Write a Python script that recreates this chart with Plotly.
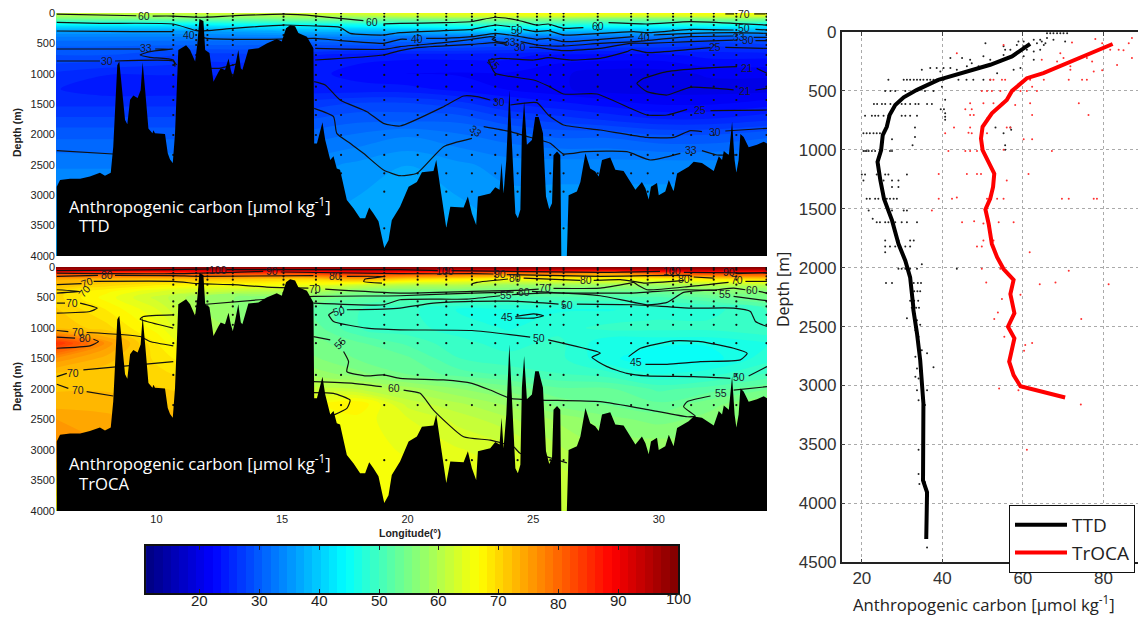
# Anthropogenic carbon sections (TTD, TrOCA) and mean depth profiles
import numpy as np
import plotly.graph_objects as go

# Sea floor along the section, shared by both panels
bottom_lon = [6.03, 6.16, 6.56, 6.96, 7.35, 7.75, 7.95, 8.18, 8.28, 8.44, 8.52, 8.62, 8.75, 8.84, 8.95, 9.08, 9.19, 9.25,
              9.37, 9.45, 9.55, 9.68, 9.84, 9.88, 9.94, 10.34, 10.45, 10.54, 10.65, 10.74, 10.87, 11.01, 11.18, 11.34,
              11.54, 11.63, 11.71, 11.87, 11.94, 12.11, 12.27, 12.47, 12.56, 12.73, 12.87, 12.96, 13.04, 13.13, 13.26,
              13.36, 13.42, 13.66, 14.06, 14.39, 14.79, 14.99, 15.16, 15.32, 15.52, 15.65, 15.99, 16.25, 16.28, 16.39,
              16.61, 16.72, 16.92, 17.05, 17.18, 17.31, 17.58, 17.85, 18.11, 18.31, 18.47, 18.64, 18.84, 19.07, 19.24,
              19.37, 19.64, 19.70, 20.04, 20.37, 20.57, 21.03, 21.14, 21.30, 21.54, 21.70, 22.23, 22.40, 22.56, 22.73,
              22.80, 23.29, 23.49, 23.66, 23.74, 23.82, 23.93, 24.05, 24.19, 24.29, 24.39, 24.49, 24.55, 24.64, 24.75,
              24.95, 25.08, 25.22, 25.39, 25.51, 25.64, 25.75, 25.81, 25.95, 26.08, 26.12, 26.34, 26.41, 26.74, 26.88,
              27.08, 27.27, 27.47, 27.61, 27.74, 28.07, 28.27, 28.60, 29.07, 29.33, 29.47, 29.60, 29.69, 29.93, 30.00,
              30.26, 30.40, 30.59, 30.73, 31.19, 31.39, 31.72, 32.19, 32.39, 32.52, 32.59, 32.79, 32.92, 33.02, 33.09,
              33.18, 33.25, 33.38, 33.58, 33.91, 34.18, 34.31]
bottom_depth = [2860, 2750, 2730, 2730, 2690, 2630, 2680, 2630, 2200, 860, 800, 1210, 1760, 1830, 1430, 1360, 1380, 1400,
                1270, 810, 1270, 1900, 1980, 1930, 1980, 1990, 2310, 2410, 2470, 1980, 610, 580, 530, 610,
                800, 500, 100, 130, 610, 660, 1130, 970, 910, 940, 750, 940, 1050, 880, 610,
                910, 940, 600, 580, 500, 430, 470, 250, 200, 220, 330, 390, 580, 2150, 2150,
                1800, 2090, 2420, 2360, 2560, 2580, 3080, 3220, 3380, 3380, 3200, 3300, 3430, 3870, 3740,
                3410, 3220, 3190, 2860, 2780, 2620, 2600, 2420, 2860, 3540, 3190, 3200, 3020, 3300, 3490,
                3020, 2970, 2870, 2910, 2470, 2970, 2420, 1270, 2530, 3300, 3380, 3240, 1980, 1460, 2170,
                2090, 1710, 1710, 1980, 3020, 3230, 3130, 2340, 2280, 2340, 4000, 4000, 3000, 2940, 2780,
                2310, 2560, 2610, 2690, 2420, 2380, 2580, 2600, 2910, 2780, 2890, 3070, 2860, 2800, 3000,
                2940, 2750, 2940, 2640, 2530, 2450, 2470, 2600, 2360, 2420, 2270, 2340, 1790, 2420, 2630,
                2420, 1990, 2040, 2210, 2170, 2120, 2150]

# Gridded section values
grid_lon = [6, 8, 10, 12, 14, 16, 18, 20, 22, 24, 26, 28, 30, 32, 34.31]
ttd_grid_depth = [0, 50, 100, 200, 300, 400, 500, 700, 1000, 1250, 1500, 1750, 2000, 2500, 3000, 3500, 4000]
ttd_values = [
    [62, 62, 62, 63, 63, 63, 64, 65, 65, 66, 66, 66, 66, 66, 66],
    [59, 59, 59, 59, 59, 60, 60, 62, 63, 64, 64, 63, 63, 64, 64],
    [54, 54, 54, 54, 54, 55, 55, 55, 56, 56, 56, 55, 55, 56, 55],
    [43, 43, 43, 43, 44, 44, 45, 46, 47, 48, 47, 46, 46, 46, 44],
    [36, 36, 36, 36, 37, 38, 38, 38, 39, 40, 39, 38, 38, 38, 37],
    [33, 33, 33, 33, 33, 33, 33, 32, 32, 32, 32, 32, 32, 30, 30],
    [31, 31, 31, 31, 31, 30, 30, 30, 30, 29, 29, 28, 28, 27, 28],
    [29, 29, 28, 27, 27, 25, 24, 24, 24, 24, 23, 23, 23, 24, 24],
    [26, 25, 25, 25, 25, 24, 23, 22, 22, 22, 21, 20, 20, 21, 21],
    [25, 24, 24, 24, 24, 24, 24, 24, 23, 22, 21, 20, 20, 20, 20],
    [26, 26, 26, 26, 26, 27, 28, 28, 27, 25, 24, 23, 22, 22, 23],
    [28, 28, 28, 28, 28, 29, 30, 30, 30, 28, 27, 26, 25, 25, 26],
    [30, 30, 30, 30, 30, 31, 32, 33, 32, 31, 30, 30, 29, 29, 30],
    [33, 33, 33, 33, 33, 34, 35, 36, 35, 34, 34, 34, 34, 34, 34],
    [35, 35, 35, 35, 35, 35, 36, 37, 36, 35, 35, 35, 35, 35, 35],
    [36, 36, 36, 36, 36, 36, 37, 37, 37, 36, 36, 36, 36, 36, 36],
    [37, 37, 37, 37, 37, 37, 37, 37, 37, 37, 37, 37, 37, 37, 37],
]
troca_grid_depth = [0, 30, 100, 200, 300, 400, 500, 700, 1000, 1250, 1500, 1750, 2000, 2250, 2500, 3000, 3500, 4000]
troca_values = [
    [100, 100, 100, 100, 100, 100, 100, 100, 100, 100, 100, 100, 100, 100, 100],
    [97, 96, 96, 97, 96, 96, 97, 97, 96, 97, 96, 96, 97, 97, 97],
    [84, 83, 83, 84, 84, 84, 86, 84, 82, 79, 79, 76, 82, 84, 84],
    [74, 73, 72, 72, 71, 70, 74, 70, 68, 66, 66, 66, 66, 68, 70],
    [72, 70, 68, 66, 66, 65, 62, 60, 60, 58, 58, 58, 58, 60, 60],
    [70, 67, 64, 62, 60, 60, 56, 55, 55, 55, 54, 54, 54, 56, 56],
    [70, 66, 62, 58, 56, 56, 53, 52, 52, 51, 51, 51, 51, 53, 55],
    [71, 68, 64, 58, 56, 53, 50, 49, 47, 47, 47, 47, 48, 48, 50],
    [72, 70, 66, 60, 56, 54, 50, 49, 48, 47, 48, 49, 49, 49, 50],
    [85, 76, 68, 62, 58, 55, 53, 51, 49, 48, 49, 46, 46, 46, 47],
    [76, 73, 69, 66, 60, 56, 54, 53, 50, 49, 49, 46, 45, 45, 48],
    [72, 71, 70, 68, 63, 58, 56, 54, 52, 51, 50, 49, 47, 48, 50],
    [72, 72, 71, 70, 66, 62, 61, 59, 57, 55, 53, 53, 51, 52, 54],
    [73, 73, 72, 71, 67, 66, 68, 62, 60, 58, 55, 54, 53, 55, 57],
    [75, 74, 73, 72, 68, 66, 66, 64, 62, 60, 58, 56, 55, 56, 58],
    [76, 75, 74, 72, 68, 66, 66, 65, 64, 63, 60, 58, 58, 58, 58],
    [70, 70, 70, 68, 67, 66, 66, 66, 65, 64, 62, 60, 60, 60, 60],
    [66, 66, 66, 66, 66, 66, 66, 66, 65, 64, 62, 60, 60, 60, 60],
]

# Contour lines, segments split by None
ttd_line_lon = [
    6.03, 9.2, None, 9.85, 10.67, 11.74, 13.07, 15.06, 16.39, 17.31, 18.24, None,
    19.04, 19.7, 21.43, 22.56, 23.49, 24.35, 25.15, 25.6, 26.21, 27.0, None, 28, 29.53, 31.26, 32.98, 34.31, None,
    32.65, 33.0, None, 33.8, 34.25, None,
    6.03, 7.75, 10.67, 11.6, 12.0, 13.07, 15.06, 16.32, 17.31, 17.71, 19.04, 19.7, 21.43, 22.56, 23.49, 24.09, None,
    24.6, 25.15, 25.6, 26.21, 27.67, 29.0, 29.53, 31.26, 32.98, None, 33.85, 34.31, None,
    6.03, 9.08, 10.67, None, 11.7, 12, 14.39, 16.32, 17.31, 19.04, 19.7, 19.97, None,
    20.74, 21.43, 22.56, 23.49, 24.35, 25.15, 25.6, 26.21, 27.67, 29.0, None, 29.8, 31.26, 32.98, 34.31, None,
    6.03, 9.35, None, 9.95, 10.67, 9.74, 9.35, 9.74, 10.67, 10.74, None, 16.32, 19.04, 19.7, 21.43, 22.56, 23.29,
    23.49, 23.36, 23.56, 23.95, None, 24.5, 25.15, 26.21, 27.67, 29, 31.26, 32.98, None, 33.78, 34.31, None,
    6.03, 7.75, None, 8.35, 10.67, 10.8, None, 12.14, 12.5, 13.3, None, 16.32, 19.04, 19.7, 20.37, 22.56, 23.49, 23.95, None,
    24.85, 25.15, 26.21, 27.67, 28.87, 29.53, 31.26, 32.98, None, 33.85, 34.31, None,
    23.22, 23.69, 25.02, 25.6, 26.48, 27.67, 28.73, 28.93, 29.53, 31.26, 32.06, None, 32.65, 34.31, None,
    23.22, 23.49, 25.02, 25.6, 26.21, 27.54, 28.87, 29.53, 30.33, 31.13, None, 32.06, 34.31, None,
    34.31, 33.9, None, 33.12, 31.66, 30.33, 29.4, 29.13, 29.53, 30.33, 31.26, 32.98, None, 33.85, 34.31, None,
    16.28, 16.72, 17.31, 18.38, 19.04, 19.7, 21.43, 22.23, 22.76, 23.29, None, 24.09, 25.15, 25.6, 26.21, 27.67, 29.53,
    30.59, 31.26, 31.72, None, 32.65, 34.31, None,
    6.03, 8.28, None, 16.28, 17.05, 17.18, 17.71, 18.24, 19.04, 19.7, 20.37, 21.43, 22.56, None, 23.03, 24.09, 25.02,
    25.68, 26.21, 27.08, 28.73, 29.66, 30.86, None, 31.72, 32.32, 33.12,
]
ttd_line_depth = [
    20, 45, None, 50, 50, 70, 45, 20, 50, 90, 125, None,
    180, 170, 160, 140, 70, 115, 198, 181, 252, 241, None, 160, 181, 143, 170, 198, None,
    15, 15, None, 15, 15, None,
    154, 170, 181, 291, 291, 252, 198, 214, 236, 335, 362, 324, 291, 269, 198, 225, None,
    269, 307, 291, 362, 335, 307, 324, 269, 280, None, 269, 280, None,
    296, 307, 307, None, 390, 417, 433, 417, 455, 499, 433, 433, None,
    417, 417, 390, 335, 379, 433, 417, 472, 433, 390, None, 362, 335, 324, 335, None,
    593, 593, None, 593, 593, 636, 691, 730, 774, 883, None, 582, 598, 554, 488, 433, 390,
    401, 433, 472, 488, None, 472, 527, 543, 499, 472, 390, 379, None, 401, 401, None,
    790, 790, None, 790, 790, 856, None, 911, 911, 829, None, 774, 691, 620, 571, 516, 488, 516, None,
    565, 565, 620, 582, 499, 499, 472, 445, None, 455, 455, None,
    774, 746, 774, 735, 774, 746, 636, 598, 653, 598, 571, None, 565, 582, None,
    774, 993, 1103, 1202, 1333, 1333, 1569, 1679, 1679, 1586, None, 1608, 1597, None,
    993, 911, None, 883, 911, 966, 1075, 1158, 1295, 1350, 1224, 1267, None, 1267, 1240, None,
    1130, 1185, 1432, 1624, 1816, 1860, 1542, 1366, 1377, 1432, None, 1514, 1476, 1679, 1844, 1926, 2047,
    2047, 1937, 1953, None, 1942, 1898, None,
    2266, 2321, None, 1569, 1706, 1981, 2145, 2310, 2584, 2678, 2639, 2200, 2063, None, 1871, 1953, 2063,
    2145, 2321, 2283, 2283, 2420, 2310, None, 2266, 2337, 2337,
]
troca_line_lon = [
    6.03, 10.67, 12.1, None, 12.8, 19.7, 21.2, None, 21.75, 27.67, 30.05, None, 31.0, 34.31, None,
    6.03, 10.67, 14.25, None, 14.95, 19.7, 22.56, 23.42, None, 23.95, 27.67, 29.53, 31.26, None, 33.12, 34.31, None,
    6.03, 7.67, None, 8.35, 10.67, 11.71, 16.25, None, 17.58, 19.11, 18.31, 18.25, 18.98, None,
    22.56, 22.76, 24.0, None, 24.62, 26.88, None, 27.41, 28.47, 29.0, 29.4, 31.0, None, 31.39, 32.19, None,
    6.03, 7.02, None, 7.5, 10.67, 11.71, 13.04, 14.39, 16.05, None, 16.72, 19.7, 22.56, 24.35, 25.22, None,
    25.81, 27.67, 28.87, 29.0, 29.2, 29.53, 31.26, 32.78, None, 33.45, 34.31, None,
    6.03, 6.96, 6.03, None,
    6.03, 6.36, None, 6.96, 7.64, 7.35, 6.03, None,
    6.03, 6.49, None, 7.22, 9.35, 9.74, 10.67, None,
    6.03, 6.43, None, 7.09, 10.67, None,
    6.03, 6.49, None, 7.22, 8.28, None,
    6.03, 6.76, None, 7.49, 7.69, 7.35, 6.03, None,
    10.67, 9.48, 9.35, 9.61, 10.67, None,
    11.74, 14.1, 16.25, 19.7, 22.56, 24.22, None, 24.95, 27.67, 29.53, 30.33, 30.99, 32.32, 32.98, 33.45, None, 33.98, 34.31, None,
    16.25, 19.04, 19.7, 22.36, 23.69, None, 24.15, 25.28, 28.87, 30.99, 32.32, None, 32.98, 34.31, None,
    16.85, 17.05, None, 17.58, 19.04, 19.7, 21.03, 22.56, 24.35, 26.01, None, 26.74, 29.0, 31.26, 32.98, 33.65, 33.85, 34.31, None,
    16.85, 17.05, 18.38, 19.7, 22.56, 24.88, None, 25.6, 27.54, 27.67, 27.34, 27.94, 28.73, 29.53, 31.39, 32.85, None, 33.58, 34.31, None,
    16.25, 16.92, None, 17.45, 17.65, 17.58, 18.38, 19.04, 19.7, 21.43, 22.56, 23.29, 24.09, 25.28, 27.67, 29.66, 31.13,
    31.46, 30.99, 31.13, 32.06, None, 32.98, 34.31, None,
    16.25, 17.84, 18.97, None, 19.84, 20.5, 21.03, 22.23, 23.29, 24.22, 24.49, 25.55, 26.34, None,
    16.25, 17.05, 17.71, 17.58, 17.05, None,
    24.29, 25.02, 25.41, 25.02, 24.29, None,
    28.8, 29.27, 30.59, 31.66, 32.98, 33.52, 33.25, 31.66, 30.33, 29.47,
]
troca_line_depth = [
    60, 44, 33, None, 44, 44, 60, None, 60, 88, 71, None, 88, 99, None,
    99, 110, 71, None, 82, 110, 110, 115, None, 126, 153, 142, 137, None, 110, 88, None,
    153, 137, None, 137, 142, 153, 142, None, 153, 153, 197, 236, 263, None,
    274, 252, 197, None, 181, 219, None, 219, 208, 236, 263, 219, None, 164, 181, None,
    290, 274, None, 236, 236, 274, 290, 329, 345, None, 362, 427, 400, 384, 362, None,
    351, 345, 263, 252, 307, 373, 318, 252, None, 236, 236, None,
    373, 400, 427, None,
    592, 592, None, 592, 674, 729, 756, None,
    1041, 1058, None, 1074, 1140, 1222, 1293, None,
    1797, 1743, None, 1688, 1551, None,
    1923, 1989, None, 2044, 2115, None,
    1151, 1167, None, 1184, 1222, 1293, 1332, None,
    784, 811, 855, 893, 1003, None,
    619, 537, 482, 471, 427, 411, None, 400, 471, 619, 581, 416, 373, 345, 373, None, 400, 427, None,
    592, 619, 537, 526, 471, None, 455, 427, 427, 373, 384, None, 482, 553, None,
    784, 729, None, 701, 690, 674, 592, 564, 564, 608, None, 608, 619, 674, 674, 729, 893, 975, None,
    784, 893, 1003, 1030, 1041, 1151, None, 1195, 1386, 1414, 1480, 1633, 1743, 1786, 1797, 1825, None, 1786, 1633, None,
    1140, 1195, None, 1386, 1551, 1715, 1786, 1770, 1825, 1852, 1907, 2017, 2154, 2181, 2208, 2345, 2455,
    2444, 2291, 2208, 2115, None, 2017, 1962, None,
    1880, 1907, 1962, None, 2017, 2071, 2345, 2784, 2839, 2948, 3058, 3113, 3211, None,
    2060, 2071, 2181, 2318, 2428, None,
    811, 767, 800, 838, 838, None,
    1469, 1332, 1211, 1222, 1332, 1414, 1523, 1551, 1595, 1595,
]

# Contour labels
ttd_label_text = ["60", "60", "60", "70", "50", "50", "40", "40", "40", "33", "33", "33", "30", "30", "30",
                  "25", "25", "25", "21", "21", "30", "30", "33", "33"]
ttd_label_lon = [9.5, 18.6, 27.57, 33.4, 24.35, 33.4, 11.3, 20.37, 29.4, 9.57, 24.09, 33.2, 8.05, 24.48, 33.55,
                 32.25, 23.42, 31.63, 33.5, 33.45, 23.65, 32.25, 22.73, 31.3]
ttd_label_depth = [50, 145, 214, 15, 280, 252, 362, 433, 401, 582, 472, 390, 790, 554, 445,
                   565, 829, 1597, 900, 1278, 1460, 1964, 1937, 2255]
ttd_label_angle = [0, 0, 0, 0, 0, 0, 0, 0, 0, 0, 0, 0, 0, 0, 0, 0, 45, 0, 0, 0, 0, 0, 40, 0]

troca_label_text = ["100", "100", "100", "90", "90", "90", "80", "80", "80", "80", "80", "70", "70", "70", "70", "70",
                    "70", "70", "70", "70", "80", "60", "60", "60", "55", "55", "55", "55", "50", "50", "50", "50", "45", "45"]
troca_label_lon = [12.47, 21.47, 30.53, 14.62, 23.69, 32.78, 8.02, 17.11, 24.29, 27.1, 31.0, 7.25, 16.32, 25.48, 33.1, 7.12,
                   6.62, 6.89, 6.69, 6.89, 7.16, 24.62, 33.7, 19.47, 23.9, 32.65, 17.31, 32.48, 17.25, 26.35, 25.25, 33.2, 23.95, 29.11]
troca_label_depth = [44, 60, 71, 71, 115, 88, 137, 153, 181, 208, 197, 252, 356, 345, 219, 389,
                     592, 1058, 1732, 2017, 1167, 411, 384, 1989, 466, 438, 1249, 2071, 729, 619, 1167, 1808, 822, 1551]
troca_label_angle = [0, 0, 0, 0, 0, 0, 0, 0, 0, 0, 0, -20, 0, 0, 0, -50,
                     0, 0, 0, 0, 0, 0, 0, 0, 0, 0, -45, 0, -15, 0, 0, 0, 0, 0]

# Sampling stations
station_lon = [10.67, 11.58, 12.03, 13.04, 15.06, 16.35, 17.35, 19.07, 20.4, 21.54, 22.56, 23.49, 24.38, 25.15, 25.68,
               26.21, 27.57, 28.9, 29.56, 30.57, 31.29, 32.19, 33.09, 34.29]
ttd_sample_depth = [5, 60, 115, 198, 280, 362, 445, 527, 691, 856, 1020, 1213, 1432, 1679, 2008, 2337, 2639, 2941, 3545]
troca_sample_depth = [16, 44, 99, 153, 208, 290, 427, 564, 647, 784, 948, 1249, 1770, 2263, 3167]

# Depth profiles: means
profile_ttd_x = [61.8, 58.9, 57.3, 51.9, 47.8, 42, 39, 33.7, 30.4, 28.3, 26.9, 26.2, 25.2, 24.8, 23.9, 24.6, 25.5, 27.5,
                 29.1, 30.8, 32, 32.8, 32.8, 33.7, 34.5, 35.3, 35.2, 35.2, 36.2, 36.2, 36]
profile_ttd_depth = [100, 165, 207, 278, 320, 378, 406, 491, 554, 619, 704, 804, 875, 1002, 1102, 1258, 1414, 1599,
                     1798, 1940, 2082, 2337, 2358, 2557, 2784, 3153, 3494, 3806, 3906, 4119, 4303]
profile_troca_x = [82.3, 75.9, 70.1, 65.1, 61, 57.3, 56, 52.3, 50, 49.6, 50, 51.5, 52.9, 52.6, 51.9, 50.7, 51.5, 52.3,
                   53.6, 55.2, 57.7, 56.9, 57.7, 57.9, 56.3, 57.9, 56.6, 57.7, 59.4, 70.5]
profile_troca_depth = [102, 193, 278, 349, 392, 500, 577, 690, 804, 903, 1002, 1102, 1201, 1315, 1414, 1505, 1627, 1798,
                       1911, 2011, 2104, 2224, 2366, 2386, 2500, 2599, 2798, 2912, 3006, 3102]

# Depth profiles: single samples
samples_ttd_x = [66, 66.8, 67.6, 68.5, 69.3, 70.1, 71, 58.9, 60.2, 62.7, 64.3, 66, 67.6, 70.5, 50.7, 55.2, 58.5, 60.2, 63.5, 64.7,
                 65.2, 65.6, 55.6, 56.9, 58.9, 61, 62.7, 64.3, 55.2, 57.7, 60.2, 62.7, 42, 44.9, 46.9, 47.3, 51.9, 50.2,
                 37, 38.6, 40.3, 42, 43.6, 46.1, 49, 53.6, 57.7, 59.4, 34.9, 39.5,
                 26.6, 30.4, 31.2, 32, 32.9, 33.7, 34.5, 35.3, 36.2, 37, 37.8, 38.6, 40.3, 44, 46, 47.7, 50.2, 51.9,
                 25.8, 27.1, 28.3, 30.8, 32.9, 33.7, 35.7, 37.8, 39.9,
                 23, 23.8, 25, 25.8, 27.1, 28.7, 29.9, 30.8, 32, 33.3, 34.1, 36.2, 37.4, 40.7, 39.6, 40.4,
                 20.8, 22.5, 23.3, 24.1, 25.4, 26.6, 29.9, 30.8, 32, 33.7, 40.7, 40.7, 40.7,
                 20.4, 21.2, 22, 22.9, 23.7, 24.5, 27.5, 33.2, 33.2, 53.2, 55.2, 56.9, 57.1,
                 20.4, 20.8, 21.2, 21.7, 22.5, 23.3, 24.6, 27, 27.5, 32.6, 55.6, 55.6,
                 20, 20.8, 23.7, 24.5, 25.8, 26.6, 31.2, 20.4, 25.4, 27.5, 29.1, 27.5, 29.1,
                 21.2, 22, 23.3, 24.1, 25.4, 26.2, 27, 27.9, 28.7,
                 21.7, 27.5, 30.4, 31.2, 22.7, 23.7, 24.5, 25.8, 26.6, 28.3, 29.9, 31.2, 33.7,
                 25.8, 32, 32.9, 29.1, 25.8, 27, 28.3, 29.5, 30.8, 32, 25.8,
                 29.1, 29.9, 30.8, 31.6, 32, 33.7, 34.9, 43.6,
                 26, 27.5, 32.9, 33.9, 34.7, 32.2, 33, 33.8, 34.5, 32, 33, 34, 32.4, 33.5, 34.2,
                 31.2, 33.7, 34.5, 33.3, 34.1, 36.2, 33.3, 34.9, 37.8, 33.7, 33.3, 34.1, 36.2, 33.7, 34.1, 35.7,
                 34.1, 34.1, 34.3, 36.2, 35.7]
samples_ttd_depth = [10, 10, 10, 10, 10, 10, 10, 80, 80, 65, 65, 50, 65, 80, 95, 120, 110, 120, 95, 80,
                     110, 95, 150, 150, 165, 150, 165, 150, 195, 195, 205, 235, 220, 220, 235, 265, 235, 205,
                     305, 305, 305, 305, 320, 290, 290, 350, 320, 305, 320, 335,
                     405, 405, 405, 405, 405, 405, 405, 405, 405, 405, 405, 405, 405, 405, 405, 405, 405, 405,
                     500, 500, 500, 500, 500, 500, 500, 500, 465,
                     610, 610, 610, 610, 610, 610, 610, 610, 610, 610, 610, 610, 610, 575, 655, 655,
                     710, 710, 710, 710, 710, 710, 710, 710, 710, 710, 690, 720, 745,
                     860, 860, 860, 860, 860, 860, 910, 810, 890, 810, 860, 810, 830,
                     1010, 1010, 1010, 1010, 1010, 1010, 1010, 1010, 1010, 960, 960, 1000,
                     1210, 1210, 1210, 1210, 1210, 1210, 1210, 1260, 1260, 1260, 1260, 1315, 1315,
                     1415, 1415, 1415, 1415, 1415, 1415, 1415, 1415, 1415,
                     1515, 1515, 1515, 1515, 1585, 1615, 1615, 1615, 1615, 1615, 1615, 1615, 1615,
                     1770, 1770, 1770, 1770, 1820, 1820, 1820, 1820, 1820, 1820, 1870,
                     2010, 2010, 2010, 2010, 2010, 2010, 1970, 2010,
                     2130, 2130, 2130, 2130, 2130, 2150, 2200, 2200, 2200, 2280, 2280, 2280, 2340, 2340, 2340,
                     2430, 2445, 2485, 2530, 2585, 2725, 2755, 2700, 2845, 2855, 2925, 2940, 3040, 3040, 3125, 3165,
                     3545, 3750, 3835, 4375, 3820]
samples_troca_x = [87.1, 86.3, 79.7, 78, 72.2, 69.3, 70.1, 83.8, 85, 81.7, 87.1, 83.4, 77.6, 79.7, 77.2, 75.9, 71.8, 71.8, 68.5, 64.7, 43.6, 55.2,
                   51.9, 52.7, 54.8, 55.6, 61.8, 65.2, 71.4, 74.7, 75.9, 49.8, 51.1, 52.3, 54.4, 57.7, 59.4, 61, 62.3, 63.5,
                   73.9, 58.1, 61.8, 46.9, 50.2, 52.7, 54.8, 45.7, 47.3, 76.3, 62.3, 46.9, 47.8, 51.1, 42.9, 46.9, 56, 56.9,
                   40.7, 46.5, 47.3, 51.1, 60.2, 62.3, 41.5, 45.7, 46.9, 48.6, 55.2, 67.2, 39.1, 46.1, 48.6, 49.6, 61.4, 56,
                   39.1, 42.4, 43.6, 51.1, 53.6, 55.2, 69.7, 71.4, 77.6, 78.4, 37.4, 44.9, 47.9, 50.2, 54, 57.7, 50.2, 48.6,
                   49.8, 52.7, 61.7, 49.8, 54.4, 71.4, 50.9, 64.2, 68.1, 81.3, 54.8, 59.4, 53.8, 52.9, 74.5, 55.4, 60.6, 62.3,
                   60.3, 54.1, 58.9, 74.4, 61]
samples_troca_depth = [50, 95, 95, 60, 90, 180, 220, 150, 155, 150, 220, 280, 335, 325, 250, 220, 290, 320, 250, 235, 180, 110,
                       405, 405, 405, 405, 405, 405, 405, 405, 405, 500, 500, 500, 500, 500, 500, 500, 465, 500,
                       605, 620, 605, 605, 605, 605, 605, 655, 655, 705, 705, 705, 705, 735, 810, 810, 810, 810,
                       860, 855, 860, 860, 910, 910, 1010, 1010, 1010, 1010, 1000, 1010, 1205, 1205, 1205, 1205, 1205, 1260,
                       1415, 1415, 1405, 1415, 1415, 1415, 1415, 1415, 1415, 1415, 1515, 1615, 1605, 1625, 1615, 1615, 1770, 1820,
                       1820, 1770, 1870, 2010, 2010, 2025, 2125, 2140, 2125, 2140, 2265, 2230, 2380, 2435, 2435, 2585, 2655, 2640,
                       2705, 3025, 3040, 3160, 3545]

# Colour bar
bar_ticks = [20, 30, 40, 50, 60, 70, 80, 90, 100]
bar_label_shift = [0, 0, 0, 0, 0, 0, -3, 0, 2]
bar_levels = np.linspace(11.7, 99.3, 64)

jet = [[0, '#00007f'], [0.125, '#0000ff'], [0.375, '#00ffff'], [0.625, '#ffff00'], [0.875, '#ff0000'], [1, '#7f0000']]
WIDTH = 1138
HEIGHT = 622


def xdom(left, right):
    return [left / WIDTH, right / WIDTH]


def ydom(top, bottom):
    return [1 - bottom / HEIGHT, 1 - top / HEIGHT]


def add_section(fig, values, grid_depth, line_lon, line_depth, sample_depth, xa, ya):
    fig.add_trace(go.Contour(x=grid_lon, y=grid_depth, z=values, colorscale=jet, zmin=11, zmax=100,
                             autocontour=False, contours=dict(start=11, end=100, size=89 / 64, coloring='fill', showlines=False),
                             line_width=0, showscale=False, hoverinfo='skip', xaxis=xa, yaxis=ya))
    fig.add_trace(go.Scatter(x=line_lon, y=line_depth, mode='lines', line=dict(color='#111111', width=1.2, shape='spline', smoothing=0.5),
                             showlegend=False, xaxis=xa, yaxis=ya))
    lons, deps = np.meshgrid(station_lon, sample_depth)
    fig.add_trace(go.Scatter(x=lons.ravel(), y=deps.ravel(), mode='markers', marker=dict(size=2.2, color='#111111'),
                             showlegend=False, xaxis=xa, yaxis=ya))
    fig.add_trace(go.Scatter(x=bottom_lon + [bottom_lon[-1], bottom_lon[0]], y=bottom_depth + [4000, 4000], mode='lines',
                             line=dict(color='black', width=0), fill='toself', fillcolor='black',
                             showlegend=False, xaxis=xa, yaxis=ya))


fig = go.Figure()
add_section(fig, ttd_values, ttd_grid_depth, ttd_line_lon, ttd_line_depth, ttd_sample_depth, 'x', 'y')
add_section(fig, troca_values, troca_grid_depth, troca_line_lon, troca_line_depth, troca_sample_depth, 'x2', 'y2')

# Profile panel
fig.add_trace(go.Scatter(x=samples_ttd_x, y=samples_ttd_depth, mode='markers', marker=dict(size=2, color='#222222'),
                         showlegend=False, xaxis='x3', yaxis='y3'))
fig.add_trace(go.Scatter(x=samples_troca_x, y=samples_troca_depth, mode='markers', marker=dict(size=2, color='#ff3030'),
                         showlegend=False, xaxis='x3', yaxis='y3'))
fig.add_trace(go.Scatter(x=profile_ttd_x, y=profile_ttd_depth, mode='lines', name='TTD', line=dict(color='black', width=4),
                         xaxis='x3', yaxis='y3'))
fig.add_trace(go.Scatter(x=profile_troca_x, y=profile_troca_depth, mode='lines', name='TrOCA', line=dict(color='#ff0000', width=4),
                         xaxis='x3', yaxis='y3'))

# Colour bar as its own small axes
fig.add_trace(go.Heatmap(x=bar_levels, y=[0], z=[bar_levels], colorscale=jet, zmin=11, zmax=100, showscale=False,
                         hoverinfo='skip', xaxis='x4', yaxis='y4'))

section_font = dict(family='Liberation Sans', size=11, color='#222222')
section_y = dict(range=[4000, 0], tick0=0, dtick=500, ticks='', showgrid=False, zeroline=False, tickfont=section_font, automargin=False)
section_x = dict(range=[6, 34.31], tick0=10, dtick=5, ticks='', showgrid=False, zeroline=False, tickfont=section_font, automargin=False)

annotations = []
for text, lon, depth, angle in zip(ttd_label_text, ttd_label_lon, ttd_label_depth, ttd_label_angle):
    annotations.append(dict(text=text, x=lon, y=depth, xref='x', yref='y', showarrow=False, textangle=angle,
                            font=dict(family='Liberation Sans', size=10.5, color='#1a1a2a')))
for text, lon, depth, angle in zip(troca_label_text, troca_label_lon, troca_label_depth, troca_label_angle):
    annotations.append(dict(text=text, x=lon, y=depth, xref='x2', yref='y2', showarrow=False, textangle=angle,
                            font=dict(family='Liberation Sans', size=10.5, color='#1a1a2a')))
for tick, shift in zip(bar_ticks, bar_label_shift):
    annotations.append(dict(text=str(tick), x=tick, xref='x4', y=1 - 611 / HEIGHT, yref='paper', yshift=shift, showarrow=False,
                            font=dict(family='Liberation Sans', size=15, color='#222222')))


def paper_text(text, x, y, size, color='#222222', family='Open Sans', angle=0, anchor='left'):
    annotations.append(dict(text=text, x=x / WIDTH, y=1 - y / HEIGHT, xref='paper', yref='paper', showarrow=False, textangle=angle,
                            xanchor=anchor, yanchor='middle', font=dict(family=family, size=size, color=color)))


carbon = 'Anthropogenic carbon [µmol kg<sup>-1</sup>]'
paper_text(carbon, 67, 206, 16.7, color='white')
paper_text('TTD', 77, 226, 16.7, color='white')
paper_text(carbon, 67, 463, 16.7, color='white')
paper_text('TrOCA', 77, 483, 16.7, color='white')
paper_text(carbon, 984, 604, 16.7, anchor='center')
paper_text('Depth [m]', 783, 290, 16, angle=-90, anchor='center')
paper_text('<b>Depth (m)</b>', 17, 133, 10.5, angle=-90, family='Liberation Sans', anchor='center')
paper_text('<b>Depth (m)</b>', 17, 387, 10.5, angle=-90, family='Liberation Sans', anchor='center')
paper_text('<b>Longitude(°)</b>', 410, 533, 10.5, family='Liberation Sans', anchor='center')

profile_font = dict(family='Liberation Sans', size=17, color='#333333')

fig.update_layout(
    width=WIDTH, height=HEIGHT, margin=dict(l=0, r=0, t=0, b=0), paper_bgcolor='white', plot_bgcolor='white',
    font=dict(family='Liberation Sans'), annotations=annotations,
    xaxis=dict(section_x, domain=xdom(56, 767), anchor='y', showticklabels=False),
    yaxis=dict(section_y, domain=ydom(13, 256), anchor='x'),
    xaxis2=dict(section_x, domain=xdom(56, 767), anchor='y2'),
    yaxis2=dict(section_y, domain=ydom(267, 511), anchor='x2'),
    xaxis3=dict(domain=xdom(841.7, 1138), range=[15, 88.6], anchor='y3', tick0=20, dtick=20, ticks='inside', ticklen=4, showline=True, mirror='allticks',
                linecolor='#222222', linewidth=1.5, showgrid=True, griddash='dot', gridcolor='#aaaaaa', gridwidth=1, zeroline=False,
                tickfont=profile_font, automargin=False),
    yaxis3=dict(domain=ydom(32, 562.3), range=[4500, 0], anchor='x3', tick0=0, dtick=500, ticks='inside', ticklen=4, showline=True,
                linecolor='#222222', linewidth=1.5, showgrid=True, griddash='dot', gridcolor='#aaaaaa', gridwidth=1, zeroline=False,
                tickfont=profile_font, automargin=False),
    xaxis4=dict(domain=xdom(146, 678), range=[11, 100], anchor='y4', tick0=20, dtick=10, ticks='inside', ticklen=4, tickcolor='#222222', showline=True,
                mirror='allticks', linecolor='#111111', linewidth=2, showticklabels=False, showgrid=False, zeroline=False, automargin=False),
    yaxis4=dict(domain=ydom(546, 593), range=[-0.5, 0.5], anchor='x4', showticklabels=False, ticks='', showline=True, mirror=True,
                linecolor='#111111', linewidth=2, showgrid=False, zeroline=False, automargin=False),
    legend=dict(x=1009 / WIDTH, y=1 - 505 / HEIGHT, xanchor='left', yanchor='top', bgcolor='white', bordercolor='#111111', borderwidth=1,
                font=dict(family='Open Sans', size=19, color='#222222'), itemwidth=52, tracegroupgap=0),
)

fig.write_html("out.html", config=dict(displayModeBar=False),
               post_script="document.body.style.margin='0';document.body.style.overflow='hidden';")
